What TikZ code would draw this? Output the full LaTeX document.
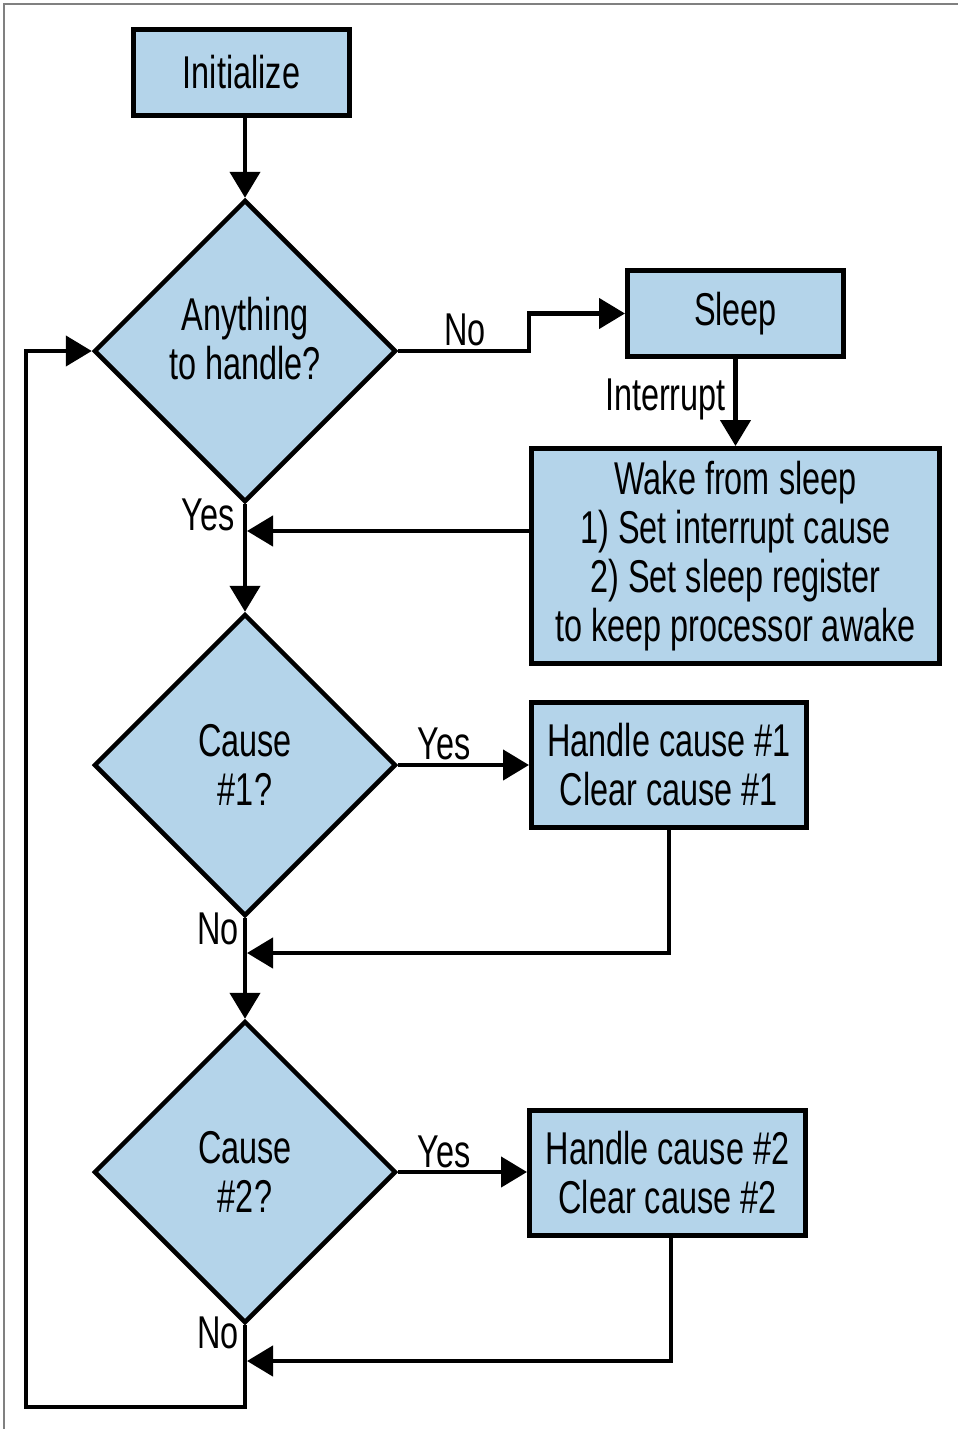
\documentclass[tikz,border=0pt]{standalone}
\usepackage{fontspec}
\setmainfont{Liberation Sans}[FakeStretch=0.705]
\usetikzlibrary{arrows.meta,shapes.geometric}
\definecolor{boxblue}{RGB}{180,212,234}
\begin{document}
\begin{tikzpicture}[x=1pt,y=-1pt,
  every node/.style={font=\fontsize{46}{49}\selectfont},
  procbox/.style={draw=black,line width=5pt,fill=boxblue,inner sep=0pt,align=center},
  decbox/.style={draw=black,line width=4.5pt,fill=boxblue,diamond,aspect=1,inner sep=0pt,minimum width=302pt,minimum height=302pt,align=center},
  arr/.style={line width=4.5pt,-{Triangle[length=26pt,width=30pt]}},
  lbl/.style={anchor=base,inner sep=0pt}]
\useasboundingbox (0,0) rectangle (958,1429);
\draw[gray,line width=1.5pt] (958,4) -- (4,4) -- (4,1429);

\node[procbox,minimum width=216pt,minimum height=86pt] (init) at (241.5,72.5) {Initialize};
\node[decbox] (d1) at (245,351) {Anything\\to handle?\\[-24pt]\mbox{}};
\node[procbox,minimum width=216pt,minimum height=86pt] (sleep) at (735.5,313.5) {Sleep};
\node[procbox,minimum width=408pt,minimum height=215pt] (wake) at (735.5,556) {Wake from sleep\\1) Set interrupt cause\\2) Set sleep register\\to keep processor awake};
\node[decbox] (d2) at (245,765) {Cause\\\#1?};
\node[procbox,minimum width=275pt,minimum height=125pt] (h1) at (669,765) {Handle cause \#1\\Clear cause \#1};
\node[decbox] (d3) at (245,1172) {Cause\\\#2?};
\node[procbox,minimum width=276pt,minimum height=125pt] (h2) at (667.5,1173) {Handle cause \#2\\Clear cause \#2};

\coordinate (nb) at (529,351);
\coordinate (j1) at (247,531);
\coordinate (j2) at (247,953);
\coordinate (j3) at (247,1361);
\coordinate (lb) at (26,1407);

\draw[arr] (init.south -| d1.north) -- (d1.north);
\draw[arr] (d1.east) -- (nb) |- (sleep.west);
\draw[arr] (sleep.south) -- (wake.north);
\draw[arr] (wake.west |- j1) -- (j1);
\draw[arr] (d1.south) -- (d2.north);
\draw[arr] (d2.east) -- (h1.west |- d2.east);
\draw[arr] (h1.south) |- (j2);
\draw[arr] (d2.south) -- (d3.north);
\draw[arr] (d3.east) -- (h2.west |- d3.east);
\draw[arr] (h2.south -| 671,0) |- (j3);
\draw[arr] (d3.south) |- (lb) |- (d1.west);

\node[lbl] (lno1) at (465,345) {No};
\node[lbl,anchor=base east] (lint) at (726,410) {Interrupt};
\node[lbl] (lyes1) at (208,530) {Yes};
\node[lbl] (lyes2) at (444,759) {Yes};
\node[lbl] (lno2) at (218,944) {No};
\node[lbl] (lyes3) at (444,1167) {Yes};
\node[lbl] (lno3) at (218,1348) {No};
\end{tikzpicture}
\end{document}
